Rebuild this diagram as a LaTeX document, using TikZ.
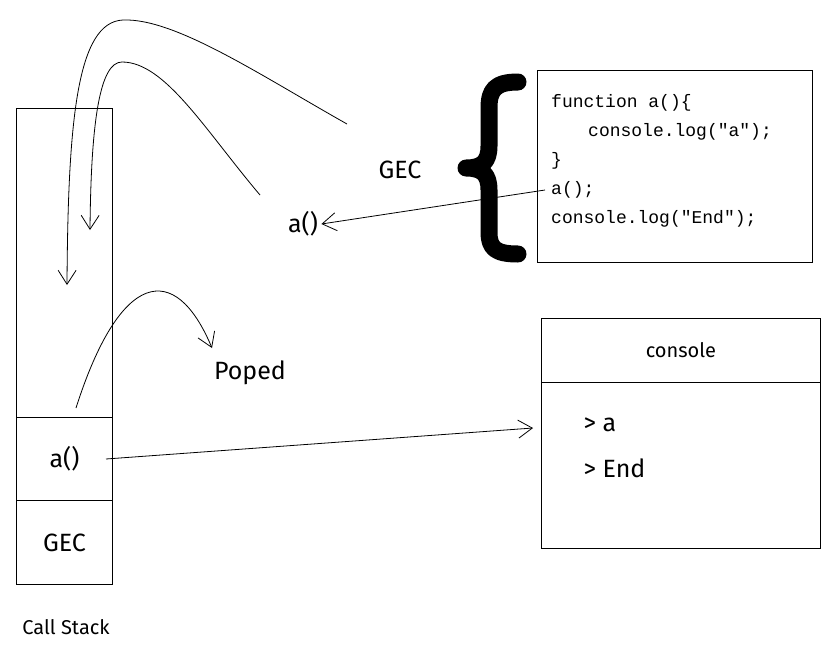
\documentclass[tikz,border=0pt]{standalone}
\usepackage{fontspec}
\setmainfont{Fira Sans}
\setmonofont{Liberation Mono}
\usetikzlibrary{positioning, arrows.meta}

\begin{document}
\begin{tikzpicture}[
    x=1pt, y=-1pt,
    box/.style={draw, line width=0.8pt, inner sep=0pt},
    frame/.style={draw, line width=1pt, inner sep=0pt, minimum width=96, font=\fontsize{25}{29}\selectfont},
    lbl/.style={font=\fontsize{25}{29}\selectfont},
    small/.style={font=\fontsize{20}{24}\selectfont},
    code/.style={font=\ttfamily\fontsize{18}{22}\selectfont, inner sep=0pt, text height=12pt, text depth=4pt},
    arr/.style={line width=0.8pt, -{Straight Barb[length=14pt, width=18pt, line width=0.8pt]}}
  ]
  \useasboundingbox (0,0) rectangle (830,651);
  % call stack
  \node[box, minimum width=96, minimum height=392, anchor=north west] (stack) at (16,108) {};
  \node[frame, minimum height=83, anchor=north west] (stacka) at (16,417) {a()};
  \node[frame, minimum height=84, anchor=north west] (stackgec) at (16,500) {GEC};
  \node[small] (stacklbl) at (66,627) {Call Stack};
  % code
  \node[box, minimum width=275, minimum height=192, anchor=north west] (codebox) at (537,70) {};
  \foreach \ln [count=\i] in {{function a()\{}, {\hspace*{37pt}console.log("a");}, \}, a();, {console.log("End");}}
    \node[code, anchor=west] (code\i) at (551,{74+29*\i}) {\ln};
  \draw[line width=17pt, line cap=round, line join=round]
    (518,82) .. controls (495,82) and (489,90) .. (489,108) -- (489,146)
    .. controls (489,162) and (482,168) .. (466,168)
    .. controls (482,168) and (489,174) .. (489,190) -- (489,232)
    .. controls (489,248) and (495,254) .. (518,254);
  \node[lbl] (gec) at (400,170) {GEC};
  \node[lbl] (afun) at (303,224) {a()};
  \node[lbl] (poped) at (250,373) {Poped};
  % console
  \node[box, minimum width=279, minimum height=64, anchor=north west, small] (conhead) at (541,318) {console};
  \node[box, minimum width=279, minimum height=166, anchor=north west] (conbody) at (541,382) {};
  \node[lbl, anchor=west] (outa) at (580,425) {> a};
  \node[lbl, anchor=west] (outend) at (580,468) {> End};
  % connectors
  \coordinate (gecfrom) at (347,124);
  \coordinate (gectop) at (123,20);
  \coordinate (gecto) at (67,285);
  \coordinate (afrom) at (260,195);
  \coordinate (atop) at (122,62);
  \coordinate (ato) at (90,230);
  \coordinate (popfrom) at (76,408);
  \coordinate (popto) at (212,348);
  \draw[arr] (gecfrom) .. controls (260,75) and (175,18) .. (gectop)
    .. controls (77,22) and (68,120) .. (gecto);
  \draw[arr] (afrom) .. controls (205,130) and (165,62) .. (atop)
    .. controls (100,62) and (91,120) .. (ato);
  \draw[arr] (popfrom) .. controls (120,270) and (175,260) .. (popto);
  \draw[arr] ([xshift=-6pt]code4.west) -- (afun.east);
  \draw[arr] ([xshift=-7pt]stacka.east) -- ([xshift=-8pt, yshift=-3pt]conbody.west |- outa);
\end{tikzpicture}
\end{document}
